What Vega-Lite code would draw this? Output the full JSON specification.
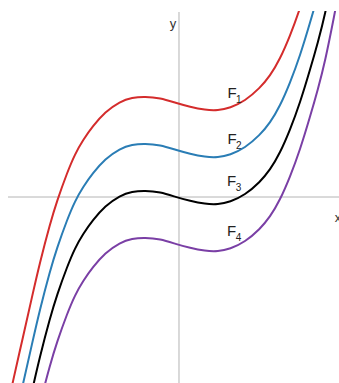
{
  "$schema": "https://vega.github.io/schema/vega-lite/v6.json",
  "width": 331,
  "height": 372,
  "autosize": "none",
  "padding": {"left": 8, "top": 11, "right": 0, "bottom": 0},
  "background": "white",
  "config": {"view": {"stroke": null}},
  "datasets": {
    "curves": [
      {"c":"F1","x":-3.702,"y":-4.702},{"c":"F1","x":-3.532,"y":-3.915},{"c":"F1","x":-3.319,"y":-2.979},{"c":"F1","x":-3.128,"y":-2.128},{"c":"F1","x":-2.957,"y":-1.383},{"c":"F1","x":-2.745,"y":-0.574},{"c":"F1","x":-2.596,"y":-0.085},{"c":"F1","x":-2.383,"y":0.511},{"c":"F1","x":-2.213,"y":0.915},{"c":"F1","x":-2.043,"y":1.213},{"c":"F1","x":-1.830,"y":1.511},{"c":"F1","x":-1.574,"y":1.809},{"c":"F1","x":-1.255,"y":2.032},{"c":"F1","x":-1.000,"y":2.117},{"c":"F1","x":-0.723,"y":2.138},{"c":"F1","x":-0.404,"y":2.106},{"c":"F1","x":-0.064,"y":2.000},{"c":"F1","x":0.234,"y":1.915},{"c":"F1","x":0.553,"y":1.851},{"c":"F1","x":0.830,"y":1.840},{"c":"F1","x":1.085,"y":1.894},{"c":"F1","x":1.404,"y":2.043},{"c":"F1","x":1.723,"y":2.319},{"c":"F1","x":1.936,"y":2.574},{"c":"F1","x":2.149,"y":2.936},{"c":"F1","x":2.362,"y":3.426},{"c":"F1","x":2.574,"y":4.000},{"c":"F1","x":2.787,"y":4.702},{"c":"F1","x":2.957,"y":5.298},{"c":"F1","x":3.106,"y":5.872},{"c":"F1","x":3.298,"y":6.830},{"c":"F1","x":3.468,"y":7.723},
      {"c":"F2","x":-3.702,"y":-5.702},{"c":"F2","x":-3.532,"y":-4.915},{"c":"F2","x":-3.319,"y":-3.979},{"c":"F2","x":-3.128,"y":-3.128},{"c":"F2","x":-2.957,"y":-2.383},{"c":"F2","x":-2.745,"y":-1.574},{"c":"F2","x":-2.596,"y":-1.085},{"c":"F2","x":-2.383,"y":-0.489},{"c":"F2","x":-2.213,"y":-0.085},{"c":"F2","x":-2.043,"y":0.213},{"c":"F2","x":-1.830,"y":0.511},{"c":"F2","x":-1.574,"y":0.809},{"c":"F2","x":-1.255,"y":1.032},{"c":"F2","x":-1.000,"y":1.117},{"c":"F2","x":-0.723,"y":1.138},{"c":"F2","x":-0.404,"y":1.106},{"c":"F2","x":-0.064,"y":1.000},{"c":"F2","x":0.234,"y":0.915},{"c":"F2","x":0.553,"y":0.851},{"c":"F2","x":0.830,"y":0.840},{"c":"F2","x":1.085,"y":0.894},{"c":"F2","x":1.404,"y":1.043},{"c":"F2","x":1.723,"y":1.319},{"c":"F2","x":1.936,"y":1.574},{"c":"F2","x":2.149,"y":1.936},{"c":"F2","x":2.362,"y":2.426},{"c":"F2","x":2.574,"y":3.000},{"c":"F2","x":2.787,"y":3.702},{"c":"F2","x":2.957,"y":4.298},{"c":"F2","x":3.106,"y":4.872},{"c":"F2","x":3.298,"y":5.830},{"c":"F2","x":3.468,"y":6.723},
      {"c":"F3","x":-3.702,"y":-6.702},{"c":"F3","x":-3.532,"y":-5.915},{"c":"F3","x":-3.319,"y":-4.979},{"c":"F3","x":-3.128,"y":-4.128},{"c":"F3","x":-2.957,"y":-3.383},{"c":"F3","x":-2.745,"y":-2.574},{"c":"F3","x":-2.596,"y":-2.085},{"c":"F3","x":-2.383,"y":-1.489},{"c":"F3","x":-2.213,"y":-1.085},{"c":"F3","x":-2.043,"y":-0.787},{"c":"F3","x":-1.830,"y":-0.489},{"c":"F3","x":-1.574,"y":-0.191},{"c":"F3","x":-1.255,"y":0.032},{"c":"F3","x":-1.000,"y":0.117},{"c":"F3","x":-0.723,"y":0.138},{"c":"F3","x":-0.404,"y":0.106},{"c":"F3","x":-0.064,"y":0.000},{"c":"F3","x":0.234,"y":-0.085},{"c":"F3","x":0.553,"y":-0.149},{"c":"F3","x":0.830,"y":-0.160},{"c":"F3","x":1.085,"y":-0.106},{"c":"F3","x":1.404,"y":0.043},{"c":"F3","x":1.723,"y":0.319},{"c":"F3","x":1.936,"y":0.574},{"c":"F3","x":2.149,"y":0.936},{"c":"F3","x":2.362,"y":1.426},{"c":"F3","x":2.574,"y":2.000},{"c":"F3","x":2.787,"y":2.702},{"c":"F3","x":2.957,"y":3.298},{"c":"F3","x":3.106,"y":3.872},{"c":"F3","x":3.298,"y":4.830},{"c":"F3","x":3.468,"y":5.723},
      {"c":"F4","x":-3.702,"y":-7.702},{"c":"F4","x":-3.532,"y":-6.915},{"c":"F4","x":-3.319,"y":-5.979},{"c":"F4","x":-3.128,"y":-5.128},{"c":"F4","x":-2.957,"y":-4.383},{"c":"F4","x":-2.745,"y":-3.574},{"c":"F4","x":-2.596,"y":-3.085},{"c":"F4","x":-2.383,"y":-2.489},{"c":"F4","x":-2.213,"y":-2.085},{"c":"F4","x":-2.043,"y":-1.787},{"c":"F4","x":-1.830,"y":-1.489},{"c":"F4","x":-1.574,"y":-1.191},{"c":"F4","x":-1.255,"y":-0.968},{"c":"F4","x":-1.000,"y":-0.883},{"c":"F4","x":-0.723,"y":-0.862},{"c":"F4","x":-0.404,"y":-0.894},{"c":"F4","x":-0.064,"y":-1.000},{"c":"F4","x":0.234,"y":-1.085},{"c":"F4","x":0.553,"y":-1.149},{"c":"F4","x":0.830,"y":-1.160},{"c":"F4","x":1.085,"y":-1.106},{"c":"F4","x":1.404,"y":-0.957},{"c":"F4","x":1.723,"y":-0.681},{"c":"F4","x":1.936,"y":-0.426},{"c":"F4","x":2.149,"y":-0.064},{"c":"F4","x":2.362,"y":0.426},{"c":"F4","x":2.574,"y":1.000},{"c":"F4","x":2.787,"y":1.702},{"c":"F4","x":2.957,"y":2.298},{"c":"F4","x":3.106,"y":2.872},{"c":"F4","x":3.298,"y":3.830},{"c":"F4","x":3.468,"y":4.723}
    ],
    "labels": [
      {"x": 1.13, "y": 2.223, "n": "1"},
      {"x": 1.13, "y": 1.234, "n": "2"},
      {"x": 1.12, "y": 0.330, "n": "3"},
      {"x": 1.12, "y": -0.723, "n": "4"}
    ],
    "axisNames": [
      {"x": -0.128, "y": 3.67, "t": "y", "a": "center"},
      {"x": 3.383, "y": -0.447, "t": "x", "a": "left"}
    ],
    "axes": [
      {"x": 0, "x2": 0, "y": 3.936, "y2": -3.957},
      {"x": -3.638, "x2": 3.404, "y": 0, "y2": 0}
    ]
  },
  "layer": [
    {
      "data": {"name": "axes"},
      "mark": {"type": "rule", "color": "#b4b4b4", "strokeWidth": 1},
      "encoding": {
        "x": {"field": "x", "type": "quantitative", "scale": {"domain": [-3.638, 3.404], "nice": false, "zero": false}, "axis": null},
        "x2": {"field": "x2"},
        "y": {"field": "y", "type": "quantitative", "scale": {"domain": [-3.957, 3.957], "nice": false, "zero": false}, "axis": null},
        "y2": {"field": "y2"}
      }
    },
    {
      "data": {"name": "curves"},
      "mark": {"type": "line", "strokeWidth": 2, "interpolate": "basis", "clip": true},
      "encoding": {
        "x": {"field": "x", "type": "quantitative"},
        "y": {"field": "y", "type": "quantitative"},
        "color": {
          "field": "c", "type": "nominal",
          "scale": {"domain": ["F1", "F2", "F3", "F4"], "range": ["#d42c2c", "#2a7db5", "#000000", "#7a3fa5"]},
          "legend": null
        }
      }
    },
    {
      "data": {"name": "labels"},
      "mark": {"type": "text", "text": "F", "font": "Liberation Sans", "fontSize": 15, "color": "#222222", "align": "center", "baseline": "middle"},
      "encoding": {
        "x": {"field": "x", "type": "quantitative"},
        "y": {"field": "y", "type": "quantitative"}
      }
    },
    {
      "data": {"name": "labels"},
      "mark": {"type": "text", "font": "Liberation Sans", "fontSize": 10, "color": "#222222", "align": "left", "baseline": "middle", "dx": 4, "dy": 7},
      "encoding": {
        "x": {"field": "x", "type": "quantitative"},
        "y": {"field": "y", "type": "quantitative"},
        "text": {"field": "n"}
      }
    },
    {
      "data": {"name": "axisNames"},
      "mark": {"type": "text", "font": "Liberation Sans", "fontSize": 13, "color": "#333333", "baseline": "middle"},
      "encoding": {
        "x": {"field": "x", "type": "quantitative"},
        "y": {"field": "y", "type": "quantitative"},
        "text": {"field": "t"},
        "align": {"field": "a"}
      }
    }
  ]
}
